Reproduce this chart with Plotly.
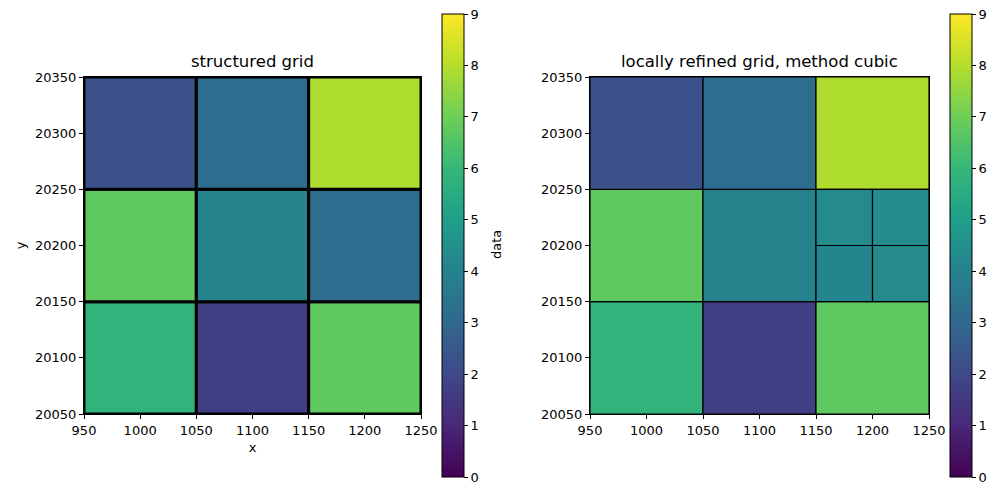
import plotly.graph_objects as go
from plotly.colors import sample_colorscale

# Data
x_edges = [950, 1050, 1150, 1250]
y_edges = [20050, 20150, 20250, 20350]
# structured grid values, rows bottom->top, columns left->right
grid_values = [
    [5.85, 1.7, 6.75],
    [6.75, 4.05, 3.2],
    [2.25, 3.2, 7.9],
]
# refined cells (x0, x1, y0, y1, value) replacing the middle-right coarse cell
refined_cells = [
    (1150, 1200, 20150, 20200, 4.1),
    (1200, 1250, 20150, 20200, 4.3),
    (1150, 1200, 20200, 20250, 4.3),
    (1200, 1250, 20200, 20250, 4.35),
]
cmin, cmax = 0, 9
x_ticks = [950, 1000, 1050, 1100, 1150, 1200, 1250]
y_ticks = [20050, 20100, 20150, 20200, 20250, 20300, 20350]

def color_of(v):
    return sample_colorscale("Viridis", [(v - cmin) / (cmax - cmin)])[0]

fig = go.Figure()

def add_cell(x0, x1, y0, y1, v, xa, ya, lw):
    fig.add_trace(go.Scatter(
        x=[x0, x1, x1, x0, x0], y=[y0, y0, y1, y1, y0],
        mode="lines", fill="toself", fillcolor=color_of(v),
        line=dict(color="black", width=lw),
        xaxis=xa, yaxis=ya, showlegend=False, hoverinfo="text",
        text=f"{v}"))

# left: structured grid
for r in range(3):
    for c in range(3):
        add_cell(x_edges[c], x_edges[c + 1], y_edges[r], y_edges[r + 1],
                 grid_values[r][c], "x", "y", 3)

# right: locally refined grid
for r in range(3):
    for c in range(3):
        if r == 1 and c == 2:
            continue
        add_cell(x_edges[c], x_edges[c + 1], y_edges[r], y_edges[r + 1],
                 grid_values[r][c], "x2", "y2", 1.2)
for (x0, x1, y0, y1, v) in refined_cells:
    add_cell(x0, x1, y0, y1, v, "x2", "y2", 1.2)

# colorbars
for ca, xa, ya in [("coloraxis", "x", "y"), ("coloraxis2", "x2", "y2")]:
    fig.add_trace(go.Scatter(
        x=[None], y=[None], mode="markers", xaxis=xa, yaxis=ya,
        marker=dict(color=[cmin, cmax], coloraxis=ca),
        showlegend=False, hoverinfo="skip"))

font = dict(family="DejaVu Sans", size=13, color="black")

cb_common = dict(
    thickness=22, thicknessmode="pixels", len=463 / 495, lenmode="fraction",
    y=(495 - 477) / 495, yanchor="bottom", xanchor="left", xpad=0, ypad=0,
    outlinecolor="black", outlinewidth=1,
    ticks="outside", ticklen=4, tickcolor="black",
    tickvals=list(range(0, 10)), tickfont=font,
)

title_font = dict(family="DejaVu Sans", size=16.5, color="black")

fig.update_layout(
    width=1001, height=495,
    margin=dict(l=0, r=0, t=0, b=0, autoexpand=False),
    paper_bgcolor="white", plot_bgcolor="white",
    font=font,
    coloraxis=dict(colorscale="Viridis", cmin=cmin, cmax=cmax,
                   colorbar=dict(cb_common, x=442 / 1001)),
    coloraxis2=dict(colorscale="Viridis", cmin=cmin, cmax=cmax,
                    colorbar=dict(cb_common, x=950 / 1001)),
    xaxis=dict(domain=[84 / 1001, 421 / 1001], range=[950, 1250], anchor="y",
               title=dict(text="x", font=font, standoff=6)),
    yaxis=dict(domain=[1 - 414 / 495, 1 - 77 / 495], range=[20050, 20350], anchor="x",
               title=dict(text="y", font=font, standoff=6)),
    xaxis2=dict(domain=[590 / 1001, 929 / 1001], range=[950, 1250], anchor="y2"),
    yaxis2=dict(domain=[1 - 414 / 495, 1 - 77 / 495], range=[20050, 20350], anchor="x2"),
    annotations=[
        dict(text="structured grid", x=(84 + 421) / 2 / 1001, y=1 - 73 / 495,
             xref="paper", yref="paper", showarrow=False, xanchor="center",
             yanchor="bottom", font=title_font),
        dict(text="locally refined grid, method cubic", x=(590 + 929) / 2 / 1001,
             y=1 - 73 / 495, xref="paper", yref="paper", showarrow=False,
             xanchor="center", yanchor="bottom", font=title_font),
        dict(text="data", x=496 / 1001, y=1 - 245 / 495, xref="paper", yref="paper",
             showarrow=False, textangle=-90, xanchor="center", yanchor="middle",
             font=font),
    ],
)

axis_style = dict(showgrid=False, zeroline=False, showline=True, linecolor="black",
                  linewidth=1, mirror=True, ticks="outside", ticklen=4,
                  tickcolor="black", tickfont=font, tickformat="d")
fig.update_xaxes(axis_style, tickvals=x_ticks)
fig.update_yaxes(axis_style, tickvals=y_ticks)

fig.write_html("out.html")
